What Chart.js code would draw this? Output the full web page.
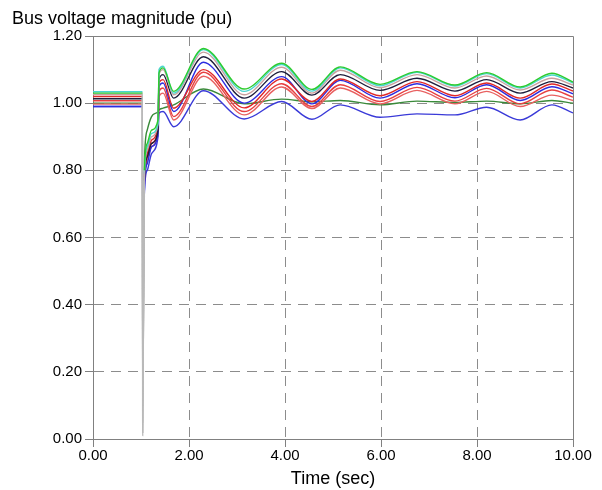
<!DOCTYPE html>
<html>
<head>
<meta charset="utf-8">
<script src="https://cdn.jsdelivr.net/npm/chart.js@4/dist/chart.umd.min.js"></script>
<style>
  html, body { margin: 0; padding: 0; background: #fff; }
  canvas { display: block; }
</style>
</head>
<body>
<canvas id="busChart" width="602" height="490"></canvas>
<script>
// Time points (sec): pre-fault, fault drop, recovery, swing peaks/troughs
const times = [0, 1.03, 1.035, 1.07, 1.13, 1.22, 1.355, 1.375, 1.46, 1.68, 2.3, 3.15, 3.93, 4.56, 5.15, 5.98, 6.75, 7.54, 8.2, 8.9, 9.56, 10];

// Bus voltages (pu), top to bottom after the fault
const busGreen  = [1.030, 1.030, 0.01, 0.80, 0.88, 0.92, 0.950, 1.090, 1.105, 1.035, 1.163, 1.042, 1.119, 1.041, 1.108, 1.056, 1.094, 1.054, 1.091, 1.048, 1.089, 1.063];
const busCyan   = [1.034, 1.034, 0.02, 0.79, 0.87, 0.91, 0.940, 1.100, 1.110, 1.030, 1.160, 1.035, 1.115, 1.036, 1.105, 1.052, 1.092, 1.051, 1.088, 1.045, 1.084, 1.060];
const busGray   = [1.026, 1.026, 0.15, 0.78, 0.86, 0.90, 0.940, 1.085, 1.100, 1.025, 1.152, 1.025, 1.107, 1.030, 1.098, 1.046, 1.085, 1.045, 1.081, 1.039, 1.074, 1.054];
const busNavy   = [1.013, 1.013, 0.10, 0.77, 0.84, 0.88, 0.920, 1.070, 1.085, 1.015, 1.138, 1.015, 1.094, 1.024, 1.085, 1.038, 1.074, 1.036, 1.070, 1.030, 1.064, 1.045];
const busRed1   = [1.020, 1.020, 0.33, 0.78, 0.85, 0.89, 0.935, 1.060, 1.070, 0.985, 1.100, 0.986, 1.072, 1.005, 1.072, 1.022, 1.064, 1.022, 1.060, 1.015, 1.057, 1.036];
const busBlue1  = [0.990, 0.990, 0.02, 0.74, 0.82, 0.87, 0.910, 1.050, 1.060, 0.975, 1.122, 1.000, 1.079, 0.998, 1.068, 1.015, 1.058, 1.016, 1.055, 1.008, 1.049, 1.028];
const busRed2   = [1.007, 1.007, 0.20, 0.77, 0.84, 0.88, 0.925, 1.035, 1.045, 0.960, 1.092, 0.975, 1.058, 0.990, 1.055, 1.005, 1.047, 1.006, 1.044, 0.998, 1.039, 1.018];
const busRed3   = [0.997, 0.997, 0.42, 0.76, 0.83, 0.87, 0.915, 1.020, 1.030, 0.950, 1.080, 0.965, 1.048, 0.984, 1.045, 0.998, 1.038, 0.998, 1.035, 0.990, 1.024, 1.008];
const busOlive  = [1.000, 1.000, 0.25, 0.82, 0.92, 0.96, 0.975, 0.980, 0.985, 0.995, 1.042, 0.998, 1.012, 1.004, 1.008, 0.995, 1.006, 1.002, 1.006, 0.998, 1.008, 1.000];
const busBlue2  = [0.990, 0.990, 0.05, 0.73, 0.80, 0.85, 0.900, 0.970, 0.975, 0.930, 1.037, 0.953, 1.005, 0.952, 0.995, 0.958, 0.968, 0.965, 0.988, 0.950, 0.995, 0.971];

const xTicks = [0, 2, 4, 6, 8, 10];
const yTicks = [0, 0.2, 0.4, 0.6, 0.8, 1.0, 1.2];

const FONT = '"Liberation Sans", Arial, sans-serif';
const AXIS_GRAY = '#808080';

const series = [
    { values: busGreen, color: '#2ecc2e' },
    { values: busCyan,  color: '#4ad6d0' },
    { values: busGray,  color: '#c8a0a0' },
    { values: busNavy,  color: '#1e1e3c' },
    { values: busRed1,  color: '#e02828' },
    { values: busBlue1, color: '#2c2ce0' },
    { values: busRed2,  color: '#e84040' },
    { values: busRed3,  color: '#e86060' },
    { values: busOlive, color: '#3a8a3a' },
    { values: busBlue2, color: '#3a3ad8' }
];

const datasets = series.map(s => ({
    data: times.map((t, i) => ({ x: t, y: s.values[i] })),
    borderColor: s.color,
    borderWidth: 1.4,
    pointRadius: 0,
    fill: false,
    cubicInterpolationMode: 'monotone',
    // the fault drop / recovery strokes look washed out in the picture
    segment: {
        borderColor: c => (c.p0DataIndex === 1 || c.p0DataIndex === 2) ? 'rgba(185,185,185,0.9)' : undefined
    }
}));

// top + right frame and the heading
const framePlugin = {
    id: 'frame',
    afterDraw(chart) {
        const { ctx, chartArea: a } = chart;
        ctx.save();
        ctx.strokeStyle = AXIS_GRAY;
        ctx.lineWidth = 1;
        ctx.beginPath();
        ctx.moveTo(a.left, a.top + 0.5);
        ctx.lineTo(a.right + 0.5, a.top + 0.5);
        ctx.lineTo(a.right + 0.5, a.bottom);
        ctx.stroke();
        ctx.fillStyle = '#000';
        ctx.font = '18px ' + FONT;
        ctx.textBaseline = 'alphabetic';
        ctx.textAlign = 'left';
        ctx.fillText('Bus voltage magnitude (pu)', 12, 24);
        ctx.restore();
    }
};

const edgeClear = (ctx, max) => (ctx.tick && (ctx.tick.value === 0 || Math.abs(ctx.tick.value - max) < 1e-9)) ? 'rgba(0,0,0,0)' : '#8c8c8c';

new Chart(document.getElementById('busChart'), {
    type: 'line',
    data: { datasets },
    options: {
        responsive: false,
        animation: false,
        devicePixelRatio: 1,
        layout: { padding: { top: 36, right: 29, left: 0, bottom: 0 } },
        plugins: { legend: { display: false }, tooltip: { enabled: false } },
        scales: {
            x: {
                type: 'linear',
                min: 0, max: 10,
                afterBuildTicks: s => { s.ticks = xTicks.map(v => ({ value: v })); },
                afterFit: s => { s.height = 51; },
                ticks: { callback: v => Number(v).toFixed(2), color: '#000', font: { family: FONT, size: 15 }, padding: 0, maxRotation: 0 },
                grid: { color: c => edgeClear(c, 10), tickColor: AXIS_GRAY, tickLength: 8, lineWidth: 1 },
                border: { color: AXIS_GRAY, dash: [10, 7] },
                title: { display: true, text: 'Time (sec)', color: '#000', font: { family: FONT, size: 18 }, padding: { top: 0, bottom: 0 } }
            },
            y: {
                min: 0, max: 1.2,
                afterBuildTicks: s => { s.ticks = yTicks.map(v => ({ value: v })); },
                afterFit: s => { s.width = 93; },
                ticks: { callback: v => Number(v).toFixed(2), color: '#000', font: { family: FONT, size: 15 }, padding: 3 },
                grid: { color: c => edgeClear(c, 1.2), tickColor: AXIS_GRAY, tickLength: 8, lineWidth: 1 },
                border: { color: AXIS_GRAY, dash: [10, 7] }
            }
        }
    },
    plugins: [framePlugin]
});
</script>
</body>
</html>
